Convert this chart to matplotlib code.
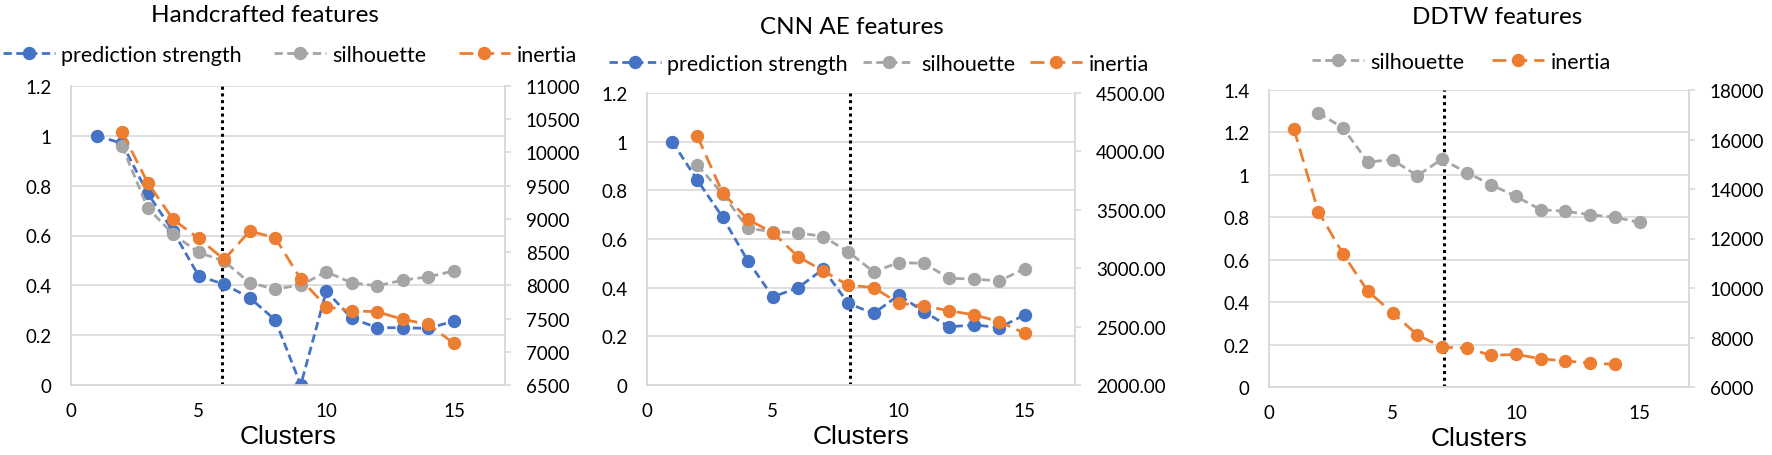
import matplotlib
matplotlib.use("Agg")
import matplotlib.pyplot as plt
from matplotlib.ticker import FuncFormatter

plt.rcParams['font.family'] = ['Lato', 'DejaVu Sans']

clusters = list(range(1, 16))

# Handcrafted features
hc_pred = [1.0, 0.97, 0.77, 0.617, 0.438, 0.404, 0.35, 0.261, 0.0, 0.377, 0.267, 0.23, 0.23, 0.227, 0.257]
hc_sil = [None, 0.959, 0.711, 0.605, 0.532, 0.497, 0.41, 0.385, 0.401, 0.454, 0.41, 0.398, 0.421, 0.434, 0.458]
hc_inertia = [None, 10308, 9547, 8991, 8705, 8389, 8815, 8715, 8094, 7678, 7617, 7602, 7487, 7412, 7126]

# CNN AE features
cnn_pred = [1.0, 0.842, 0.69, 0.511, 0.362, 0.40, 0.476, 0.335, 0.294, 0.369, 0.302, 0.239, 0.247, 0.236, 0.288]
cnn_sil = [None, 0.903, 0.786, 0.644, 0.63, 0.626, 0.61, 0.547, 0.465, 0.503, 0.50, 0.439, 0.435, 0.428, 0.478]
cnn_inertia = [None, 4130, 3646, 3418, 3304, 3099, 2977, 2854, 2834, 2700, 2678, 2635, 2601, 2541, 2444]

# DDTW features
ddtw_sil = [None, 1.293, 1.22, 1.061, 1.071, 0.996, 1.074, 1.011, 0.953, 0.898, 0.836, 0.828, 0.812, 0.80, 0.776]
ddtw_inertia = [16441, 13082, 11375, 9870, 8997, 8110, 7613, 7572, 7277, 7317, 7142, 7048, 6968, 6914, None]

BLUE = '#4472C4'
GRAY = '#A5A5A5'
ORANGE = '#ED7D31'
GRID = '#D9D9D9'

W, H = 1772, 456
fig = plt.figure(figsize=(W / 100, H / 100), dpi=100)


def px_axes(left, top, right, bottom):
    return fig.add_axes([left / W, 1 - bottom / H, (right - left) / W, (bottom - top) / H])


def pairs(ys):
    xs = [x for x, y in zip(clusters, ys) if y is not None]
    vs = [y for y in ys if y is not None]
    return xs, vs


def setup(ax, ax2, ymax, rticks, rfmt, vline, height):
    ax.set_xlim(0, 17)
    ax.set_ylim(0, ymax)
    ax.set_xticks([0, 5, 10, 15])
    ax.set_yticks([round(0.2 * i, 1) for i in range(int(round(ymax / 0.2)) + 1)])
    ax.yaxis.set_major_formatter(FuncFormatter(lambda v, p: '{:g}'.format(round(v, 1))))
    ax.grid(axis='y', color=GRID, lw=1.2)
    ax.set_axisbelow(True)
    ax.tick_params(axis='y', length=0, labelsize=13.5, pad=14)
    ax.tick_params(axis='x', length=0, labelsize=13.5, pad=12)
    ax.set_xlabel('Clusters', fontsize=19, family='Liberation Sans', va='center')
    ax.xaxis.set_label_coords(0.5, -51 / height)
    ax2.set_ylim(rticks[0], rticks[-1])
    ax2.set_yticks(rticks)
    ax2.yaxis.set_major_formatter(FuncFormatter(lambda v, p: rfmt.format(v)))
    ax2.tick_params(axis='y', length=4, width=1.2, color=GRID, labelsize=13.5, pad=11)
    for a in (ax, ax2):
        a.spines['top'].set_visible(False)
        for s in ('left', 'right', 'bottom'):
            a.spines[s].set_color(GRID)
            a.spines[s].set_linewidth(1.2)
    ax.axvline(vline, color='black', ls=(0, (1, 1.2)), lw=2.2, zorder=1)


def plot_series(ax, ys, color, label, dashes):
    xs, vs = pairs(ys)
    return ax.plot(xs, vs, color=color, ls=(0, dashes), lw=2, marker='o', ms=8.6,
                   label=label, zorder=3)[0]


def legend(handles, labels, x, y, spacing):
    fig.legend(handles, labels, loc='center left', bbox_to_anchor=(x / W, 1 - y / H),
               ncol=len(handles), frameon=False, fontsize=15.5, borderpad=0,
               borderaxespad=0, handlelength=2.4, columnspacing=spacing, handletextpad=0.3)


short = (3, 1.6)
long_ = (5, 2.5)

# panel 1
ax = px_axes(71, 87, 505, 386)
ax2 = ax.twinx()
h1 = plot_series(ax, hc_pred, BLUE, 'prediction strength', short)
h2 = plot_series(ax, hc_sil, GRAY, 'silhouette', short)
h3 = plot_series(ax2, hc_inertia, ORANGE, 'inertia', long_)
setup(ax, ax2, 1.2, list(range(6500, 11001, 500)), '{:.0f}', 5.9, 299)
fig.text(265 / W, 1 - 15 / H, 'Handcrafted features', fontsize=17.5, ha='center', va='center')
legend([h1, h2, h3], ['prediction strength', 'silhouette', 'inertia'], 3, 56, 1.5)

# panel 2
ax = px_axes(647, 94, 1075, 386)
ax2 = ax.twinx()
h1 = plot_series(ax, cnn_pred, BLUE, 'prediction strength', short)
h2 = plot_series(ax, cnn_sil, GRAY, 'silhouette', short)
h3 = plot_series(ax2, cnn_inertia, ORANGE, 'inertia', long_)
setup(ax, ax2, 1.2, list(range(2000, 4501, 500)), '{:.2f}', 8.05, 292)
fig.text(852 / W, 1 - 27 / H, 'CNN AE features', fontsize=17.5, ha='center', va='center')
legend([h1, h2, h3], ['prediction strength', 'silhouette', 'inertia'], 609, 65, 0.7)

# panel 3
ax = px_axes(1269, 91, 1689, 388)
ax2 = ax.twinx()
h2 = plot_series(ax, ddtw_sil, GRAY, 'silhouette', short)
h3 = plot_series(ax2, ddtw_inertia, ORANGE, 'inertia', long_)
setup(ax, ax2, 1.4, list(range(6000, 18001, 2000)), '{:.0f}', 7.08, 297)
fig.text(1497 / W, 1 - 17 / H, 'DDTW features', fontsize=17.5, ha='center', va='center')
legend([h2, h3], ['silhouette', 'inertia'], 1312, 63, 1.3)

fig.savefig('out.png', dpi=100)
